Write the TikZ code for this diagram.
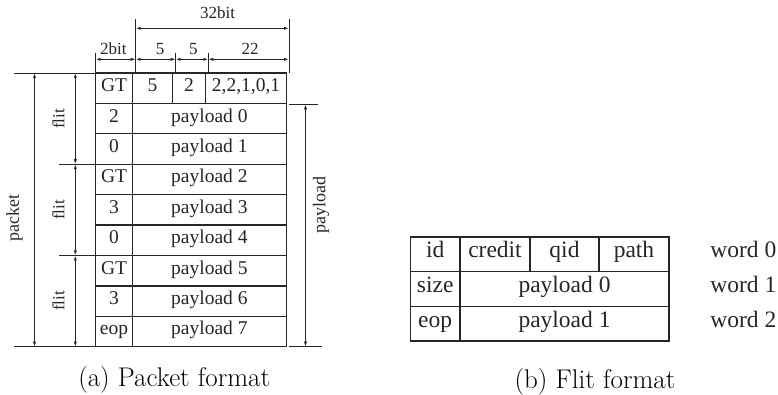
\documentclass[tikz,border=0pt]{standalone}
\usepackage{fontspec}
\newfontfamily\tms{Liberation Serif}
\usetikzlibrary{arrows.meta}
\begin{document}
\begin{tikzpicture}[x=1pt,y=-1pt,
  ink/.style={black!85},
  gridline/.style={ink, line width=1.3pt},
  extline/.style={ink, line width=0.9pt},
  dimline/.style={ink, line width=0.9pt,
    {Latex[length=5pt,width=3.2pt]}-{Latex[length=5pt,width=3.2pt]}},
  cellA/.style={inner sep=0pt, text=black!85, text height=0.68em, text depth=0pt,
    font=\tms\fontsize{19.5}{22}\selectfont},
  cellB/.style={inner sep=0pt, text=black!85, text height=0.68em, text depth=0pt,
    font=\tms\fontsize{23.5}{26}\selectfont},
  dimlabel/.style={inner sep=0pt, text=black!85, text height=0.68em, text depth=0pt,
    font=\tms\fontsize{17}{20}\selectfont},
  caption/.style={inner sep=0pt, font=\fontsize{27}{31}\selectfont}]
\useasboundingbox (0,0) rectangle (778,395);

% ---------------- packet format ----------------
\def\rh{30.41}
\draw[gridline] (95.7,73) rectangle (286.5,346.7);
\foreach \i in {1,...,8}
  \draw[gridline] (95.7,{73+\i*\rh}) -- (286.5,{73+\i*\rh});
\draw[gridline] (132.3,73) -- (132.3,346.7);
\draw[gridline] (172.5,73) -- (172.5,{73+\rh});
\draw[gridline] (205.5,73) -- (205.5,{73+\rh});

% first column
\foreach \t [count=\i from 0] in {GT,2,0,GT,3,0,GT,3,eop}
  \node[cellA] (k\i) at (114,{73+(\i+0.5)*\rh}) {\t};
% header word fields
\node[cellA] (h1) at (152.4,{73+0.5*\rh}) {5};
\node[cellA] (h2) at (189,{73+0.5*\rh}) {2};
\node[cellA] (h3) at (246,{73+0.5*\rh}) {2,2,1,0,1};
% payload rows
\foreach \j in {0,...,7}
  \node[cellA] (p\j) at (209.4,{73+(\j+1.5)*\rh}) {payload \j};

% bit-width dimensions on top
\coordinate (eA) at (95.7,53);   \coordinate (eAt) at (95.7,73);
\coordinate (eB) at (135.7,19);  \coordinate (eBt) at (135.7,73);
\coordinate (eC) at (175.7,53);  \coordinate (eCt) at (175.7,73);
\coordinate (eD) at (208.3,53);  \coordinate (eDt) at (208.3,73);
\coordinate (eE) at (289,19);    \coordinate (eEt) at (289,73);
\foreach \e in {A,B,C,D,E} \draw[extline] (e\e) -- (e\e t);

\coordinate (w1) at (135.7,28.3); \coordinate (w2) at (289,28.3);
\draw[dimline] (w1) -- (w2);
\coordinate (b0) at (95.7,59.3);  \coordinate (b1) at (135.7,59.3);
\coordinate (b2) at (175.7,59.3); \coordinate (b3) at (208.3,59.3);
\coordinate (b4) at (289,59.3);
\draw[dimline] (b0) -- (b1);
\draw[dimline] (b1) -- (b2);
\draw[dimline] (b2) -- (b3);
\draw[dimline] (b3) -- (b4);

\node[dimlabel] (l32) at (217.5,15) {32bit};
\node[dimlabel] (l2)  at (113.3,51) {2bit};
\node[dimlabel] (l5a) at (160,51) {5};
\node[dimlabel] (l5b) at (193.3,51) {5};
\node[dimlabel] (l22) at (250,51) {22};

% packet / flit dimensions on the left
\coordinate (pt0) at (14,73);    \coordinate (pt1) at (95.7,73);
\coordinate (pb0) at (14,346.7); \coordinate (pb1) at (95.7,346.7);
\draw[extline] (pt0) -- (pt1);
\draw[extline] (pb0) -- (pb1);
\coordinate (f10) at (59,{73+3*\rh}); \coordinate (f11) at (95.7,{73+3*\rh});
\coordinate (f20) at (59,{73+6*\rh}); \coordinate (f21) at (95.7,{73+6*\rh});
\draw[extline] (f10) -- (f11);
\draw[extline] (f20) -- (f21);

\coordinate (pa) at (34.5,73);  \coordinate (pz) at (34.5,346.7);
\draw[dimline] (pa) -- (pz);
\coordinate (fa) at (75.3,73);
\coordinate (fb) at (75.3,{73+3*\rh});
\coordinate (fc) at (75.3,{73+6*\rh});
\coordinate (fd) at (75.3,346.7);
\draw[dimline] (fa) -- (fb);
\draw[dimline] (fb) -- (fc);
\draw[dimline] (fc) -- (fd);

\node[dimlabel, rotate=90, font=\tms\fontsize{18}{20}\selectfont] (lpk) at (15.5,218) {packet};
\node[dimlabel, rotate=90] (lf1) at (61,119) {flit};
\node[dimlabel, rotate=90] (lf2) at (61,210) {flit};
\node[dimlabel, rotate=90] (lf3) at (61,301) {flit};

% payload dimension on the right
\coordinate (qt0) at (289,104.3); \coordinate (qt1) at (318,104.3);
\coordinate (qb0) at (289,346.7); \coordinate (qb1) at (322,346.7);
\draw[extline] (qt0) -- (qt1);
\draw[extline] (qb0) -- (qb1);
\coordinate (qa) at (305.5,104.3); \coordinate (qz) at (305.5,346.7);
\draw[dimline] (qa) -- (qz);
\node[dimlabel, rotate=90, font=\tms\fontsize{18}{20}\selectfont] (lpl) at (322,205) {payload};

\node[caption] (capa) at (174.2,380) {(a) Packet format};

% ---------------- flit format ----------------
\def\fh{34.67}
\draw[gridline] (410.5,237) rectangle (669,341);
\draw[gridline] (410.5,{237+\fh}) -- (669,{237+\fh});
\draw[gridline] (410.5,{237+2*\fh}) -- (669,{237+2*\fh});
\draw[gridline] (460,237) -- (460,341);
\draw[gridline] (530,237) -- (530,{237+\fh});
\draw[gridline] (599,237) -- (599,{237+\fh});

\node[cellB] (fid)  at (435.2,{237+0.5*\fh}) {id};
\node[cellB] (fcr)  at (495,{237+0.5*\fh}) {credit};
\node[cellB] (fqid) at (564.5,{237+0.5*\fh}) {qid};
\node[cellB] (fpa)  at (634,{237+0.5*\fh}) {path};
\node[cellB] (fsz)  at (435.2,{237+1.5*\fh}) {size};
\node[cellB] (fp0)  at (564.5,{237+1.5*\fh}) {payload 0};
\node[cellB] (feop) at (435.2,{237+2.5*\fh}) {eop};
\node[cellB] (fp1)  at (564.5,{237+2.5*\fh}) {payload 1};

\foreach \j in {0,1,2}
  \node[cellB] (wd\j) at (743.3,{237+(\j+0.5)*\fh}) {word \j};

\node[caption] (capb) at (595,381.5) {(b) Flit format};
\end{tikzpicture}
\end{document}
